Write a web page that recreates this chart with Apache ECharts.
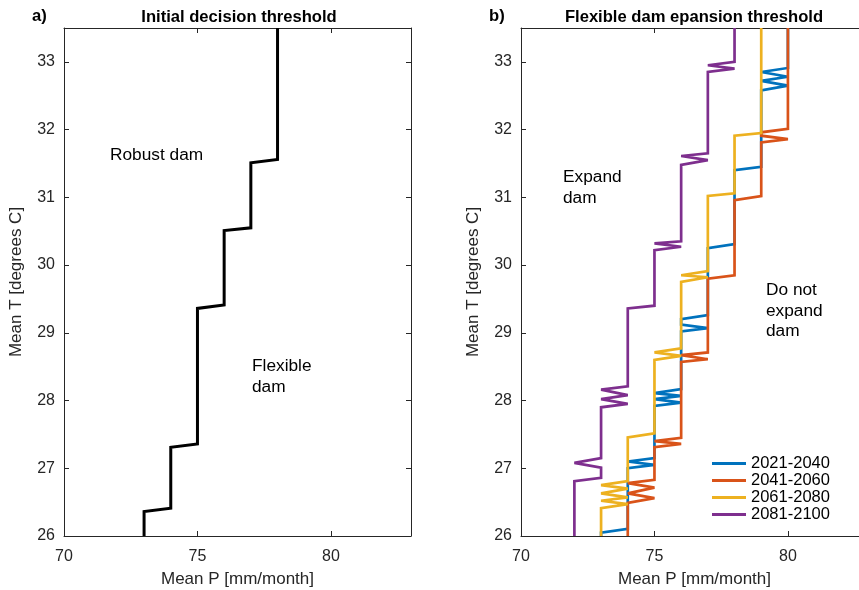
<!DOCTYPE html>
<html>
<head>
<meta charset="utf-8">
<script src="https://cdn.jsdelivr.net/npm/echarts@6/dist/echarts.min.js"></script>
<style>html,body{margin:0;padding:0;background:#fff}#c{width:859px;height:590px}</style>
</head>
<body>
<div id="c"></div>
<script>
// ---- data ----
const xTickValues = [70, 75, 80];
const yTickValues = [26, 27, 28, 29, 30, 31, 32, 33];
const seriesNames = ['2021-2040', '2041-2060', '2061-2080', '2081-2100'];

// panel a) initial decision threshold
const initP = [73, 73, 74, 74, 75, 75, 76, 76, 77, 77, 78, 78];
const initT = [26, 26.36, 26.41, 27.31, 27.36, 29.36, 29.41, 30.51, 30.55, 31.51, 31.56, 33.5];

// panel b) flexible dam expansion threshold
const p2021 = [73, 73, 74, 74, 75, 74, 75, 75, 76, 75, 76, 75, 76, 76, 77, 76, 76, 77, 77, 78, 78, 79, 79, 80, 79, 80, 79, 80, 80];
const t2021 = [26, 26.05, 26.105, 27.0, 27.05, 27.10, 27.15, 27.92, 27.97, 28.02, 28.07, 28.11, 28.17, 29.02, 29.07, 29.12, 29.2, 29.26, 30.25, 30.31, 31.40, 31.45, 32.58, 32.65, 32.72, 32.78, 32.85, 32.91, 33.5];

const p2041 = [74, 74, 75, 74, 75, 74, 75, 75, 76, 75, 76, 76, 77, 76, 77, 77, 78, 78, 79, 79, 80, 79, 79, 80, 80];
const t2041 = [26, 26.49, 26.56, 26.63, 26.715, 26.78, 26.83, 27.31, 27.36, 27.40, 27.45, 28.57, 28.61, 28.67, 28.71, 29.80, 29.85, 30.96, 31.02, 31.81, 31.86, 31.91, 31.96, 32.01, 33.5];

const p2061 = [73, 73, 74, 73, 74, 73, 74, 73, 74, 74, 75, 75, 76, 75, 76, 76, 77, 76, 77, 77, 78, 78, 79, 79];
const t2061 = [26, 26.41, 26.47, 26.52, 26.57, 26.63, 26.70, 26.75, 26.81, 27.456, 27.515, 28.60, 28.66, 28.71, 28.77, 29.75, 29.82, 29.85, 29.91, 31.02, 31.06, 31.91, 31.95, 33.5];

const p2081 = [72, 72, 73, 73, 72, 73, 73, 74, 73, 74, 73, 74, 74, 75, 75, 76, 75, 76, 76, 77, 76, 77, 77, 78, 77, 78, 78];
const t2081 = [26, 26.81, 26.86, 27.01, 27.08, 27.15, 27.90, 27.95, 28.02, 28.08, 28.16, 28.21, 29.36, 29.40, 30.22, 30.27, 30.32, 30.35, 31.48, 31.55, 31.61, 31.65, 32.85, 32.90, 32.95, 33.0, 33.5];

// ---- styling ----
const FONT = 'Liberation Sans, Arial, Helvetica, sans-serif';
const AX = '#262626';
const colors = ['#0072BD', '#D95319', '#EDB120', '#7E2F8E'];
const zip = (a, b) => a.map((v, i) => [v, b[i]]);

function xAxis(grid, pos, main) {
  return {
    type: 'value', gridIndex: grid, position: pos, min: 70, max: 83, interval: 5,
    axisLine: { show: true, onZero: false, lineStyle: { color: AX, width: 1 } },
    axisTick: { show: true, inside: true, length: 5, customValues: xTickValues, lineStyle: { color: AX, width: 1 } },
    axisLabel: { show: main, customValues: xTickValues, color: AX, fontSize: 16, fontFamily: FONT, margin: 13 },
    splitLine: { show: false },
    name: main ? 'Mean P [mm/month]' : '', nameLocation: 'middle', nameGap: 35,
    nameTextStyle: { color: AX, fontSize: 17, fontFamily: FONT }
  };
}
function yAxis(grid, pos, main) {
  return {
    type: 'value', gridIndex: grid, position: pos, min: 26, max: 33.5, interval: 1,
    axisLine: { show: true, onZero: false, lineStyle: { color: AX, width: 1 } },
    axisTick: { show: true, inside: true, length: 5, customValues: yTickValues, lineStyle: { color: AX, width: 1 } },
    axisLabel: { show: main, customValues: yTickValues, color: AX, fontSize: 16, fontFamily: FONT, margin: 9 },
    splitLine: { show: false },
    name: main ? 'Mean T [degrees C]' : '', nameLocation: 'middle', nameGap: 39,
    nameTextStyle: { color: AX, fontSize: 17, fontFamily: FONT }
  };
}
function txt(x, y, s, opts) {
  return {
    type: 'text', x: x, y: y, silent: true,
    style: Object.assign({
      text: s, fill: '#000', font: '17.3px ' + FONT,
      align: 'left', verticalAlign: 'middle', textAlign: 'left', textVerticalAlign: 'middle', lineHeight: 20.7
    }, opts || {})
  };
}

const lineSeries = (name, p, t, color, xi, yi, w) => ({
  name: name, type: 'line', xAxisIndex: xi, yAxisIndex: yi,
  data: zip(p, t), symbol: 'none', showSymbol: false, smooth: false, clip: true,
  lineStyle: { color: color, width: w, join: 'miter', miterLimit: 3, cap: 'butt' },
  itemStyle: { color: color }, emphasis: { disabled: true }, animation: false
});

const chart = echarts.init(document.getElementById('c'), null, { renderer: 'canvas' });
chart.setOption({
  animation: false,
  backgroundColor: '#fff',
  grid: [
    { left: 64, top: 28, width: 347, height: 508, containLabel: false, outerBoundsMode: 'none' },
    { left: 521, top: 28, width: 347, height: 508, containLabel: false, outerBoundsMode: 'none' }
  ],
  xAxis: [xAxis(0, 'bottom', true), xAxis(0, 'top', false), xAxis(1, 'bottom', true), xAxis(1, 'top', false)],
  yAxis: [yAxis(0, 'left', true), yAxis(0, 'right', false), yAxis(1, 'left', true), yAxis(1, 'right', false)],
  legend: {
    data: seriesNames, orient: 'vertical', left: 707, top: 450,
    icon: 'rect', itemWidth: 34, itemHeight: 3, itemGap: 0,
    textStyle: { color: '#000', fontSize: 16.5, fontFamily: FONT, lineHeight: 17 },
    selectedMode: false
  },
  series: [
    lineSeries('initial', initP, initT, '#000', 0, 0, 3),
    lineSeries(seriesNames[0], p2021, t2021, colors[0], 2, 2, 2.7),
    lineSeries(seriesNames[1], p2041, t2041, colors[1], 2, 2, 2.7),
    lineSeries(seriesNames[2], p2061, t2061, colors[2], 2, 2, 2.7),
    lineSeries(seriesNames[3], p2081, t2081, colors[3], 2, 2, 2.7)
  ],
  graphic: [
    txt(239, 17, 'Initial decision threshold', { font: 'bold 16.6px ' + FONT, align: 'center', textAlign: 'center' }),
    txt(694, 17, 'Flexible dam epansion threshold', { font: 'bold 16.6px ' + FONT, align: 'center', textAlign: 'center' }),
    txt(32, 16, 'a)', { font: 'bold 16.6px ' + FONT }),
    txt(489, 16, 'b)', { font: 'bold 16.6px ' + FONT }),
    txt(110, 155, 'Robust dam'),
    txt(252, 376.5, 'Flexible\ndam'),
    txt(563, 188, 'Expand\ndam'),
    txt(766, 311, 'Do not\nexpand\ndam')
  ]
});
</script>
</body>
</html>
